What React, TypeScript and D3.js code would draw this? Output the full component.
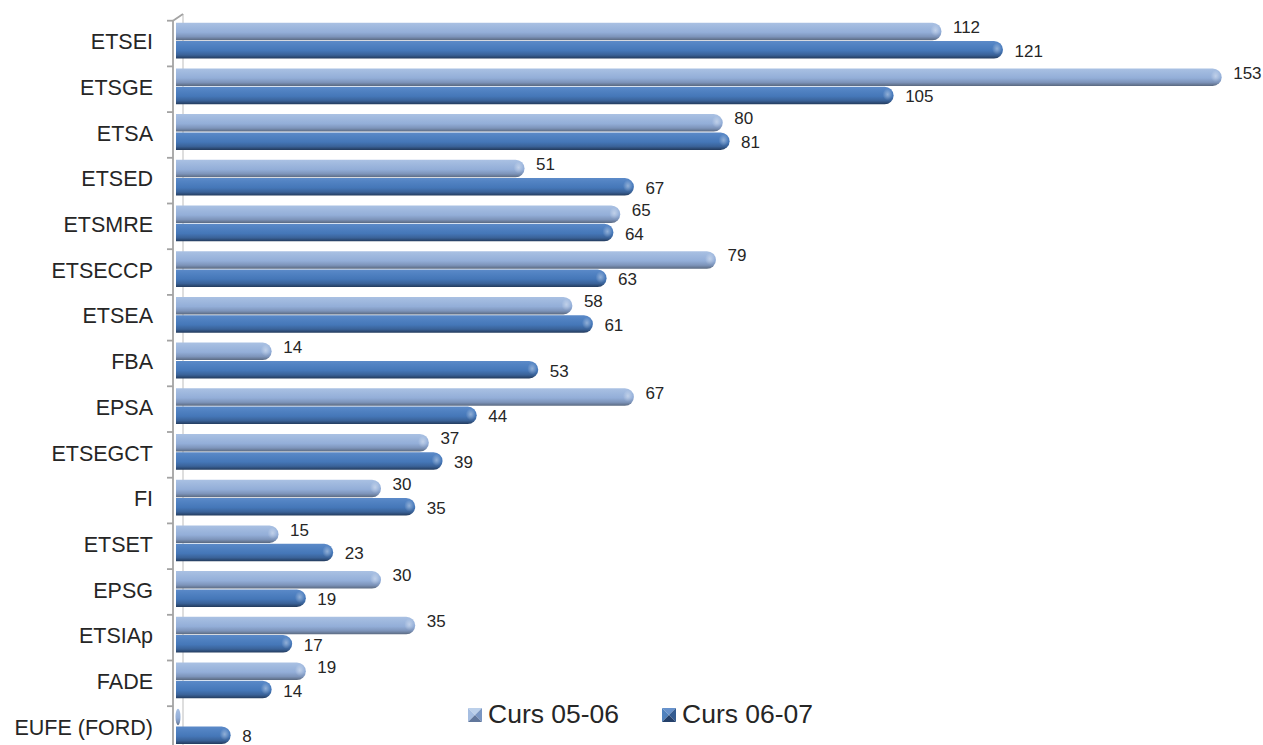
import React from "react";
import * as d3 from "d3";

const categories = [
  "ETSEI", "ETSGE", "ETSA", "ETSED", "ETSMRE", "ETSECCP", "ETSEA", "FBA",
  "EPSA", "ETSEGCT", "FI", "ETSET", "EPSG", "ETSIAp", "FADE", "EUFE (FORD)",
];
const curs0506 = [112, 153, 80, 51, 65, 79, 58, 14, 67, 37, 30, 15, 30, 35, 19, 0];
const curs0607 = [121, 105, 81, 67, 64, 63, 61, 53, 44, 39, 35, 23, 19, 17, 14, 8];
const seriesNames = ["Curs 05-06", "Curs 06-07"];

const W = 1263;
const H = 745;
const FONT = "'Liberation Sans', Arial, Helvetica, sans-serif";

export default function App() {
  const x = d3.scaleLinear().domain([0, 153]).range([176, 1221.7]);
  const y = d3
    .scaleBand<string>()
    .domain(categories)
    .range([20.7, 20.7 + categories.length * 45.7])
    .padding(0);
  const bh = 17.5;
  const rx = 9;

  const barPath = (v: number, y0: number) => {
    const x0 = x(0);
    const xe = x(v);
    const xs = Math.max(x0, xe - rx);
    return `M${x0},${y0}H${xs}A${rx},${bh / 2} 0 0 1 ${xs},${y0 + bh}H${x0}Z`;
  };

  const series = [
    { name: seriesNames[0], values: curs0506, off: 2, grad: "gLight", lblDy: -3 },
    { name: seriesNames[1], values: curs0607, off: 20.3, grad: "gDark", lblDy: 2.5 },
  ];

  const yTop = y.range()[0];
  const yBot = y.range()[1];

  return (
    <svg
      width={W}
      height={H}
      style={{ position: "absolute", left: 0, top: 0, display: "block", background: "#fff" }}
      fontFamily={FONT}
    >
      <defs>
        <linearGradient id="gLight" x1="0" y1="0" x2="0" y2="1">
          <stop offset="0" stopColor="#aac1e3" />
          <stop offset="0.2" stopColor="#a1badf" />
          <stop offset="0.55" stopColor="#93aed8" />
          <stop offset="0.8" stopColor="#7d94ba" />
          <stop offset="1" stopColor="#5a6980" />
        </linearGradient>
        <linearGradient id="gDark" x1="0" y1="0" x2="0" y2="1">
          <stop offset="0" stopColor="#5c8ac8" />
          <stop offset="0.2" stopColor="#5283c3" />
          <stop offset="0.55" stopColor="#4577b8" />
          <stop offset="0.8" stopColor="#3a6298" />
          <stop offset="1" stopColor="#233b5d" />
        </linearGradient>
        <radialGradient id="hl" cx="0.5" cy="0.5" r="0.5">
          <stop offset="0" stopColor="#ffffff" stopOpacity="0.4" />
          <stop offset="1" stopColor="#ffffff" stopOpacity="0" />
        </radialGradient>
      </defs>

      {/* back wall edge */}
      <line x1={183} y1={14} x2={183} y2={yBot} stroke="#c8c8c8" strokeWidth={1.2} />

      {/* bars */}
      {categories.map((c, i) => {
        const b = y(c)!;
        return (
          <g key={c}>
            {series.map((s) => {
              const v = s.values[i];
              const y0 = b + s.off;
              const cy = y0 + bh / 2;
              if (v === 0) {
                return (
                  <ellipse
                    key={s.name}
                    cx={x(0) + 2}
                    cy={cy}
                    rx={2.5}
                    ry={bh / 2 - 0.5}
                    fill={`url(#${s.grad})`}
                  />
                );
              }
              return (
                <g key={s.name}>
                  <path d={barPath(v, y0)} fill={`url(#${s.grad})`} />
                  <ellipse cx={x(v) - 6} cy={cy - 1} rx={5} ry={6} fill="url(#hl)" />
                  <text
                    x={x(v) + 11.5}
                    y={cy + s.lblDy}
                    dominantBaseline="middle"
                    fontSize={17}
                    fill="#262626"
                  >
                    {v}
                  </text>
                </g>
              );
            })}
          </g>
        );
      })}

      {/* front axis */}
      <g stroke="#a3a3a3" strokeWidth={1.8} fill="none">
        <line x1={173} y1={yTop} x2={173} y2={yBot} />
        <line x1={173} y1={yTop} x2={183} y2={14} />
        {d3.range(categories.length + 1).map((k) => {
          const ty = yTop + k * y.step();
          return <line key={k} x1={167} y1={ty} x2={173} y2={ty} />;
        })}
      </g>

      {/* category labels */}
      {categories.map((c) => (
        <text
          key={c}
          x={153}
          y={y(c)! + y.bandwidth() / 2}
          textAnchor="end"
          dominantBaseline="middle"
          fontSize={21.5}
          fill="#262626"
        >
          {c}
        </text>
      ))}

      {/* legend */}
      {series.map((s, i) => {
        const lx = i === 0 ? 468 : 662;
        const ly = 708;
        const sz = 14;
        const cx = lx + sz / 2;
        const cyy = ly + sz / 2;
        const cols =
          i === 0
            ? ["#bcd0ea", "#a6bee1", "#7a96c2", "#61779c"]
            : ["#6792cc", "#4f81bd", "#345c91", "#24406a"];
        return (
          <g key={s.name}>
            <polygon points={`${lx},${ly} ${lx + sz},${ly} ${cx},${cyy}`} fill={cols[0]} />
            <polygon points={`${lx},${ly} ${cx},${cyy} ${lx},${ly + sz}`} fill={cols[1]} />
            <polygon points={`${lx + sz},${ly} ${lx + sz},${ly + sz} ${cx},${cyy}`} fill={cols[2]} />
            <polygon points={`${lx},${ly + sz} ${cx},${cyy} ${lx + sz},${ly + sz}`} fill={cols[3]} />
            <text
              x={lx + sz + 6}
              y={cyy + 1}
              dominantBaseline="middle"
              fontSize={26.5}
              fill="#262626"
            >
              {s.name}
            </text>
          </g>
        );
      })}
    </svg>
  );
}
